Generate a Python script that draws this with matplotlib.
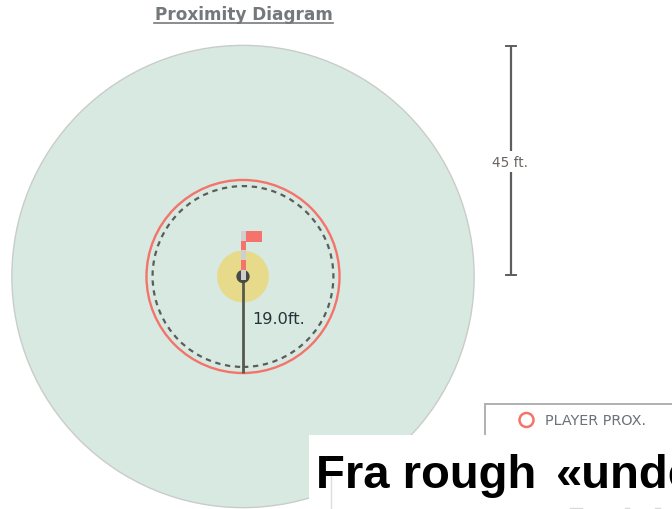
import matplotlib
matplotlib.use("Agg")
import matplotlib.pyplot as plt
from matplotlib.patches import Circle, Rectangle

title = "Proximity Diagram"
green_radius_ft = 45.5
player_prox_ft = 19.0
average_prox_ft = 17.8
cup_zone_ft = 5.1
scale_bar_ft = 45
player_label = "19.0ft."
scale_label = "45 ft."
legend_label = "PLAYER PROX."
overlay_words = ["Fra rough", "«unde"]

W, H = 672, 510
CX, CY = 243, 277.5
PPF = 5.08

fig = plt.figure(figsize=(W / 100, H / 100), dpi=100, facecolor="white")
ax = fig.add_axes([0, 0, 1, 1])
ax.set_xlim(-CX / PPF, (W - CX) / PPF)
ax.set_ylim(-(H - CY) / PPF, CY / PPF)
ax.axis("off")

def fx(px):
    return (px - CX) / PPF

def fy(py):
    return (CY - py) / PPF

RED = "#f4736b"
DARK = "#55594f"
FONT = "DejaVu Sans"

ax.add_patch(Circle((0, 0), green_radius_ft, fc="#d7e9e0", ec="#c9cdca", lw=1.0, zorder=1))
ax.add_patch(Circle((0, 0), cup_zone_ft, fc="#e7da8a", ec="none", zorder=2))
ax.add_patch(Circle((0, 0), average_prox_ft, fc="none", ec="#5a5e5b", lw=1.6,
                    ls=(0, (2.4, 2.1)), zorder=3))
ax.add_patch(Circle((0, 0), player_prox_ft, fc="none", ec=RED, lw=1.7, zorder=4))

# radius line from the cup to the player ring
ax.plot([0, 0], [0, -player_prox_ft], color=DARK, lw=2.0, solid_capstyle="butt", zorder=5)
ax.add_patch(Circle((0, 0), 1.1, fc="#4a4a44", ec="#4a4a44", lw=1.5, zorder=6))

# flag
stripes = [(232, 242, "#cfcfcf"), (242, 251, RED), (251, 261, "#cfcfcf"),
           (261, 271, RED), (271, 281, "#cfcfcf")]
for top, bottom, col in stripes:
    ax.add_patch(Rectangle((fx(241), fy(bottom)), 5 / PPF, (bottom - top) / PPF,
                           fc=col, ec="none", zorder=7))
ax.add_patch(Rectangle((fx(246), fy(243)), 15.5 / PPF, 11 / PPF, fc=RED, ec="none", zorder=7))

ax.text(fx(252), fy(320), player_label, fontsize=11.6, color="#26323a", family=FONT,
        ha="left", va="center", zorder=8)

# title
ax.text(fx(243.5), fy(15), title, fontsize=12.2, color="#74787a", family=FONT, weight="bold",
        ha="center", va="center", zorder=8)
ax.plot([fx(154), fx(333)], [fy(24.2), fy(24.2)], color="#77797b", lw=1.2, zorder=8)

# scale bar: 45 ft drawn upward from its base
bar_x = fx(511)
bar_base = fy(276)
bar_top = bar_base + scale_bar_ft
ax.plot([bar_x, bar_x], [bar_base, fy(173)], color="#5d5f5f", lw=1.6, solid_capstyle="butt")
ax.plot([bar_x, bar_x], [fy(152), bar_top], color="#5d5f5f", lw=1.6, solid_capstyle="butt")
for y in (bar_base, bar_top):
    ax.plot([fx(506), fx(516)], [y, y], color="#5d5f5f", lw=1.4)
ax.text(bar_x - 0.1, fy(163), scale_label, fontsize=9.8, color="#6b6560", family=FONT,
        ha="center", va="center")

# legend box
ax.add_patch(Rectangle((fx(484.5), fy(520)), 220 / PPF, 115.5 / PPF, fc="white", ec="#b0b0b0", lw=1.4, zorder=9))
ax.add_patch(Circle((fx(526.5), fy(421)), 7 / PPF, fc="white", ec=RED, lw=1.8, zorder=10))
ax.text(fx(545), fy(421), legend_label, fontsize=10.4, color="#6b7278", family=FONT,
        ha="left", va="center", zorder=10)

# white caption overlay
ax.add_patch(Rectangle((fx(309), fy(515)), 380 / PPF, 79 / PPF, fc="white", ec="none", zorder=11))
ax.plot([fx(330.5), fx(330.5)], [fy(477), fy(512)], color="#dddddd", lw=1, zorder=11.5)
for x0, x1 in [(570, 582), (625, 629), (655, 660)]:
    ax.plot([fx(x0), fx(x1)], [fy(509.5), fy(509.5)], color="#d8d8d8", lw=1, zorder=11.5)
for word, px in zip(overlay_words, (315.5, 556)):
    ax.text(fx(px), fy(488), word, fontsize=34, weight="bold", color="black",
            family="Liberation Sans", ha="left", va="baseline", zorder=12)

fig.savefig("out.png", dpi=100)
